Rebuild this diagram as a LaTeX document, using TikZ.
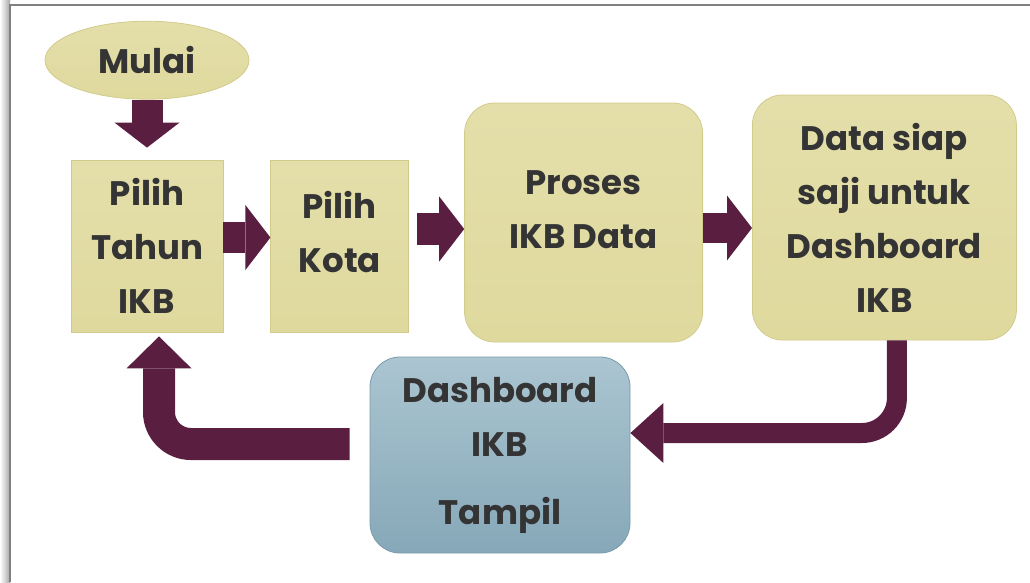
\documentclass[tikz,border=0pt]{standalone}
\usepackage{fontspec}
\setmainfont{Poppins}
\usetikzlibrary{arrows.meta, positioning, shapes.geometric}
\definecolor{ikbmaroon}{RGB}{90,30,65}
\definecolor{ikbsand}{RGB}{223,217,158}
\definecolor{ikbsandtop}{RGB}{228,223,170}
\definecolor{ikbsandline}{RGB}{210,203,140}
\definecolor{ikbbluetop}{RGB}{171,197,209}
\definecolor{ikbbluebot}{RGB}{134,168,184}
\definecolor{ikbblueline}{RGB}{120,155,171}
\definecolor{ikbtext}{RGB}{52,52,52}
\definecolor{ikbframe}{RGB}{128,128,128}

\begin{document}
\begin{tikzpicture}[x=1pt, y=1pt,
     base/.style = {draw, line width=0.8pt, align=center, inner sep=0pt,
                    text=ikbtext, font=\fontsize{34}{54}\selectfont\bfseries},
startstop/.style = {base, ellipse, draw=ikbsandline,
                    top color=ikbsandtop, bottom color=ikbsand},
  process/.style = {base, rectangle, draw=ikbsandline,
                    top color=ikbsandtop, bottom color=ikbsand},
 roundproc/.style = {process, rounded corners=30pt},
   output/.style = {base, rounded corners=30pt, draw=ikbblueline,
                    top color=ikbbluetop, bottom color=ikbbluebot},
    arrow/.style = {draw=ikbmaroon, line width=31pt,
                    -{Triangle[length=25pt, width=65pt, line width=0pt]}},
     back/.style = {arrow, rounded corners=#1}
                    ]
\useasboundingbox (0,0) rectangle (1030,-582);
% frame
\shade[left color=white, right color=ikbframe!70] (0,0) rectangle (10,-582);
\draw[ikbframe, line width=2pt] (10,-582) -- (10,-5) -- (1030,-5);
 % main
\node (tahun)  [process, minimum width=152pt, minimum height=172pt] at (147,-246) {Pilih\\Tahun\\IKB};
\node (mulai)  [startstop, minimum width=204pt, minimum height=78pt, above=60pt of tahun] {Mulai};
\node (kota)   [process, minimum width=138pt, minimum height=172pt, text depth=29pt,
                right=47pt of tahun] {Pilih\\Kota};
\node (proses) [roundproc, minimum width=238pt, minimum height=239pt, text depth=25pt,
                right=55pt of kota, yshift=23.5pt] {Proses\\IKB Data};
\node (siap)   [roundproc, minimum width=264pt, minimum height=245pt,
                right=49pt of proses, yshift=5pt] {Data siap\\saji untuk\\Dashboard\\IKB};
\node (tampil) [output, minimum width=260pt, minimum height=196pt] at (500,-455) {Dashboard\\IKB\\[14pt]Tampil};

\draw[arrow, shorten >=12pt] (mulai.south) -- (tahun.north);
\draw[arrow] ([yshift=8.5pt]tahun.east) -- ([yshift=8.5pt]kota.west);
\draw[arrow, line width=32pt, shorten <=8pt] ([yshift=17pt]kota.east) -- ([yshift=17pt]kota.east -| proses.west);
\draw[arrow, line width=30pt] ([yshift=-5.5pt]proses.east) -- ([yshift=-5.5pt]proses.east -| siap.west);

% return to the start
\draw[back=35pt, line width=20pt, -{Triangle[length=33pt, width=60pt, line width=0pt]}]
     ([xshift=12.5pt]siap.south) |- ([yshift=22pt]tampil.east);
\draw[back=32pt, line width=32pt, -{Triangle[length=32pt, width=65pt, line width=0pt]}]
     ([shift={(-20pt,11pt)}]tampil.west) -| ([shift={(12pt,-4pt)}]tahun.south);
\end{tikzpicture}
\end{document}
